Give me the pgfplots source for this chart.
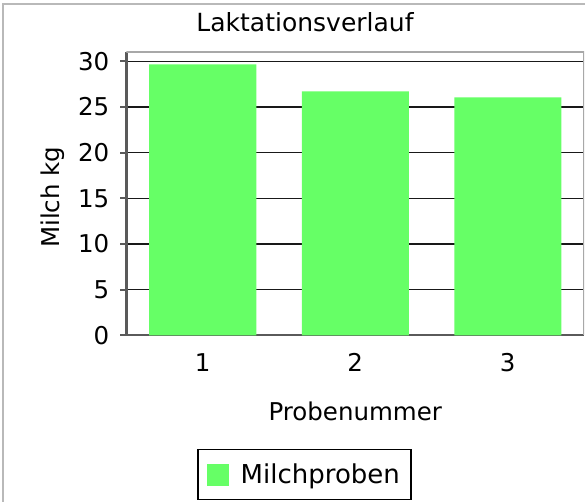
\documentclass[border=0pt]{standalone}
\usepackage{pgfplots}
\pgfplotsset{compat=1.18}
\usepackage{fontspec}
\setmainfont{DejaVu Sans}
\definecolor{barg}{HTML}{66FF66}
\definecolor{framegray}{HTML}{A8A8A8}
\definecolor{axisgray}{HTML}{5A5A5A}
\begin{document}
\begin{tikzpicture}
\useasboundingbox (-126.5pt,-166.7pt) rectangle (458.5pt,335.3pt);
\draw[framegray!80, line width=2pt] (-123.5pt,-175pt) rectangle (470pt,330.8pt);
\node[anchor=base, font=\fontsize{25}{29}\selectfont] at (178.5pt,303.6pt) {Laktationsverlauf};
\begin{axis}[
  at={(0pt,0pt)}, anchor=south west,
  scale only axis,
  width=457.5pt, height=283.6pt,
  xmin=0.5, xmax=3.5,
  ymin=0, ymax=31.05,
  xtick={1,2,3},
  ytick={0,5,10,15,20,25,30},
  axis x line*=bottom,
  axis y line*=left,
  axis line style={axisgray, line width=2.2pt},
  x axis line style={-}, y axis line style={-},
  xtick style={draw=none},
  ytick style={axisgray, line width=2pt},
  tick align=outside,
  major tick length=6pt,
  ymajorgrids,
  grid style={black!90, line width=1.3pt},
  /pgf/number format/assume math mode=true,
  tick label style={font=\fontsize{24.5}{28}\selectfont},
  xticklabel style={anchor=base, yshift=-30.4pt},
  yticklabel style={anchor=east, inner sep=0pt, xshift=-11pt},
  xlabel={Probenummer},
  ylabel={Milch kg},
  label style={font=\fontsize{24.5}{29}\selectfont},
  xlabel style={at={(axis description cs:0.5,0)}, anchor=base, yshift=-85.4pt},
  ylabel style={at={(axis description cs:-0.1469,0.487)}, anchor=base},
  legend style={at={(axis description cs:0.389,-0.491)}, anchor=center,
    draw=black, line width=1.5pt, font=\fontsize{26}{31}\selectfont,
    inner xsep=9pt, inner ysep=12.5pt},
  legend image code/.code={\fill[barg] (0pt,-11pt) rectangle (22pt,11pt); \path (31.7pt,0pt);},
]
\addplot[ybar, bar width=107pt, fill=barg, draw=none] coordinates {(1,29.65) (2,26.7) (3,26.05)};
\addlegendentry{Milchproben}
\draw[framegray, line width=2pt] (rel axis cs:0,1) -- (rel axis cs:1,1) -- (rel axis cs:1,0);
\end{axis}
\end{tikzpicture}
\end{document}
